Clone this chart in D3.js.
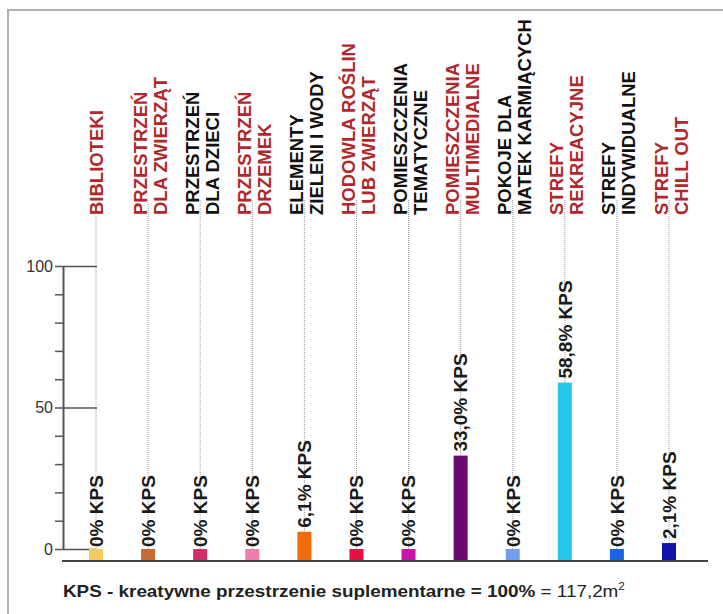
<!DOCTYPE html>
<html>
    <head>
        <meta charset="utf-8">
        <title>KPS</title>
        <style>
body {
    margin: 0;
    background: #fff;
}

#chart svg {
    display: block;
}

.cat {
    font: bold 18.5px "Liberation Sans", Arial, sans-serif;
}

.val {
    font: bold 19px "Liberation Sans", Arial, sans-serif;
    fill: #1a1a1a;
}

.yaxis text {
    font: 16px "Liberation Sans", Arial, sans-serif;
    fill: #333;
}
        </style>
    </head>
    <body>
        <div id="chart"></div>
        <script src="https://d3js.org/d3.v7.min.js"></script>
        <script>

// dane
const categories = [
    ["BIBLIOTEKI"],
    ["PRZESTRZEŃ", "DLA ZWIERZĄT"],
    ["PRZESTRZEŃ", "DLA DZIECI"],
    ["PRZESTRZEŃ", "DRZEMEK"],
    ["ELEMENTY", "ZIELENI I WODY"],
    ["HODOWLA ROŚLIN", "LUB ZWIERZĄT"],
    ["POMIESZCZENIA", "TEMATYCZNE"],
    ["POMIESZCZENIA", "MULTIMEDIALNE"],
    ["POKOJE DLA", "MATEK KARMIĄCYCH"],
    ["STREFY", "REKREACYJNE"],
    ["STREFY", "INDYWIDUALNE"],
    ["STREFY", "CHILL OUT"]
]
const values = [0, 0, 0, 0, 6.1, 0, 0, 33.0, 0, 58.8, 0, 2.1]
const valueLabels = ["0% KPS", "0% KPS", "0% KPS", "0% KPS", "6,1% KPS", "0% KPS",
    "0% KPS", "33,0% KPS", "0% KPS", "58,8% KPS", "0% KPS", "2,1% KPS"]
const labelColors = ["#b0282b", "#b0282b", "#111", "#b0282b", "#111", "#b0282b",
    "#111", "#b0282b", "#111", "#b0282b", "#111", "#b0282b"]
const barColors = ["#f2cb5c", "#c86a30", "#cf306a", "#ef7eaa", "#f06b0a", "#e8103e",
    "#c618a6", "#680a6e", "#6f9fee", "#26c6ef", "#1866e6", "#1212aa"]
const majorTicks = [0, 50, 100]
const minorTicks = [0, 10, 20, 30, 40, 50, 60, 70, 80, 90, 100]
const note = "KPS - kreatywne przestrzenie suplementarne = 100%"
const noteValue = " = 117,2m"

const W = 723, H = 614
const data = values.map((v, i) => ({i, v, lines: categories[i], label: valueLabels[i],
    color: barColors[i], tc: labelColors[i]}))

const x = d3.scalePoint()
    .domain(d3.range(values.length))
    .range([96, 669])
const y = d3.scaleLinear()
    .domain([0, 100])
    .range([549, 266])
const baseY = y(0) + 12
const barW = 14

const svg = d3.select("#chart").append("svg")
    .attr("width", W)
    .attr("height", H)

// ramka
svg.append("path")
    .attr("d", "M8," + H + "V10H" + W)
    .attr("fill", "none")
    .attr("stroke", "#b0b0b0")
    .attr("stroke-width", 2)

// linie kropkowane
svg.selectAll(".guide")
    .data(data)
    .enter()
    .append("line")
    .attr("class", "guide")
    .attr("x1", d => x(d.i))
    .attr("x2", d => x(d.i))
    .attr("y1", d => d.lines.length > 1 ? 200 : 217)
    .attr("y2", baseY)
    .attr("stroke", "#9a9a9a")
    .attr("stroke-width", 1)
    .attr("stroke-dasharray", "1,1")

// os Y
const yaxis = svg.append("g")
    .attr("class", "yaxis")
    .attr("transform", "translate(63,0)")
    .call(d3.axisLeft(y).tickValues(minorTicks).tickSize(8).tickSizeOuter(0).tickPadding(2)
        .tickFormat(d => majorTicks.includes(d) ? d : ""))
yaxis.select(".domain").attr("stroke", "#555").attr("stroke-width", 2)
yaxis.selectAll(".tick line").attr("stroke", "#555").attr("stroke-width", 1.5)

svg.append("g")
    .attr("transform", "translate(63,0)")
    .call(d3.axisRight(y).tickValues(majorTicks).tickSize(34).tickFormat(""))
    .call(g => g.select(".domain").remove())
    .selectAll(".tick line").attr("stroke", "#555").attr("stroke-width", 1.5)

// slupki
svg.selectAll(".bar")
    .data(data)
    .enter()
    .append("rect")
    .attr("class", "bar")
    .attr("x", d => x(d.i) - barW / 2)
    .attr("width", barW)
    .attr("y", d => y(d.v))
    .attr("height", d => baseY - y(d.v))
    .attr("fill", d => d.color)

// linia bazowa
svg.append("line")
    .attr("x1", 62)
    .attr("x2", 708)
    .attr("y1", baseY)
    .attr("y2", baseY)
    .attr("stroke", "#444")
    .attr("stroke-width", 2)

// etykiety wartosci
svg.selectAll(".val")
    .data(data)
    .enter()
    .append("text")
    .attr("class", "val")
    .attr("transform", d => "translate(" + x(d.i) + "," + (y(d.v) - (d.v > 0 ? 4 : 2)) + ") rotate(-90)")
    .attr("dy", "0.36em")
    .text(d => d.label)

// etykiety kategorii
const cat = svg.selectAll(".cat")
    .data(data)
    .enter()
    .append("text")
    .attr("class", "cat")
    .attr("fill", d => d.tc)
    .attr("transform", d => "translate(" + x(d.i) + ",215) rotate(-90)")
cat.selectAll("tspan")
    .data(d => d.lines.map((t, k) => ({t, k, n: d.lines.length})))
    .enter()
    .append("tspan")
    .attr("x", 0)
    .attr("y", d => d.n === 1 ? 7 : (d.k === 0 ? -1.5 : 18.5))
    .text(d => d.t)

// opis
const foot = svg.append("text")
    .attr("transform", "translate(63,597) scale(1.18,1)")
    .style("font-family", "'Liberation Sans', Arial, sans-serif")
    .style("font-size", "16px")
    .attr("fill", "#222")
foot.append("tspan").attr("font-weight", "bold").text(note)
foot.append("tspan").text(noteValue)
foot.append("tspan").attr("font-size", "10px").attr("dy", "-7").text("2")

        </script>
    </body>
</html>
